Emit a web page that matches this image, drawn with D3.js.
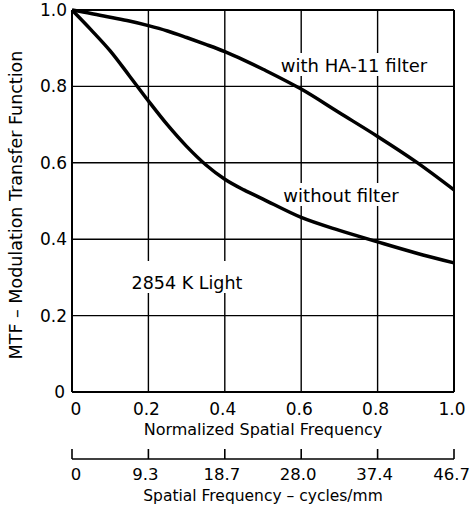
<!DOCTYPE html>
<html><head><meta charset="utf-8">
<script src="https://cdn.jsdelivr.net/npm/d3@7/dist/d3.min.js"></script>
<style>
html,body{margin:0;padding:0;background:#fff;}
svg{display:block;}
text{font-family:"DejaVu Sans",sans-serif;fill:#000;}
</style></head>
<body>
<script>
const freqNorm = [0, 0.05, 0.1, 0.15, 0.2, 0.25, 0.3, 0.35, 0.4, 0.45, 0.5, 0.6, 0.7, 0.8, 0.9, 1.0];
const mtfWithFilter = [1.0, 0.991, 0.981, 0.971, 0.959, 0.945, 0.928, 0.910, 0.891, 0.869, 0.845, 0.793, 0.731, 0.669, 0.603, 0.529];
const mtfWithoutFilter = [1.0, 0.948, 0.893, 0.828, 0.762, 0.699, 0.643, 0.595, 0.557, 0.529, 0.505, 0.457, 0.423, 0.393, 0.364, 0.338];
const xTicks = [0, 0.2, 0.4, 0.6, 0.8, 1.0];
const xTickLabels = ["0", "0.2", "0.4", "0.6", "0.8", "1.0"];
const cyclesTickLabels = ["0", "9.3", "18.7", "28.0", "37.4", "46.7"];
const yTicks = [0, 0.2, 0.4, 0.6, 0.8, 1.0];
const yTickLabels = ["0", "0.2", "0.4", "0.6", "0.8", "1.0"];

const W = 471, H = 508;
const svg = d3.select("body").append("svg").attr("width", W).attr("height", H);
const x = d3.scaleLinear().domain([0, 1]).range([72, 454]);
const y = d3.scaleLinear().domain([0, 1]).range([392, 10]);

// grid
const g = svg.append("g");
g.selectAll(".vg").data(xTicks).enter().append("line")
  .attr("x1", d => x(d)).attr("x2", d => x(d)).attr("y1", y(0)).attr("y2", y(1))
  .attr("stroke", "#000").attr("stroke-width", d => (d === 0 || d === 1) ? 2 : 1.4);
g.selectAll(".hg").data(yTicks).enter().append("line")
  .attr("y1", d => y(d)).attr("y2", d => y(d)).attr("x1", x(0)).attr("x2", x(1))
  .attr("stroke", "#000").attr("stroke-width", d => (d === 0 || d === 1) ? 2 : 1.4);

// annotations (white knock-out behind text)
function label(txt, cx, by, size, padTop, padBot) {
  const t = svg.append("text").attr("x", cx).attr("y", by).attr("text-anchor", "middle")
    .attr("font-size", size).text(txt);
  const bb = t.node().getBBox();
  svg.insert("rect", "text").attr("x", bb.x - 3).attr("y", bb.y - padTop).attr("width", bb.width + 6)
    .attr("height", bb.height + padTop + padBot).attr("fill", "#fff");
}

// y tick labels
svg.selectAll(".yl").data(yTicks).enter().append("text")
  .attr("x", (d, i) => i === 0 ? 65 : 67).attr("y", d => y(d) + 6)
  .attr("text-anchor", "end").attr("font-size", 17)
  .text((d, i) => yTickLabels[i]);

// x tick labels
svg.selectAll(".xl").data(xTicks).enter().append("text")
  .attr("x", (d, i) => i === 0 ? x(d) + 4 : x(d) - 2).attr("y", 415)
  .attr("text-anchor", "middle").attr("font-size", 17)
  .text((d, i) => xTickLabels[i]);

svg.append("text").attr("x", x(0.5)).attr("y", 435).attr("text-anchor", "middle")
  .attr("font-size", 16).text("Normalized Spatial Frequency");

// second axis
svg.append("line").attr("x1", x(0)).attr("x2", x(1)).attr("y1", 459).attr("y2", 459)
  .attr("stroke", "#000").attr("stroke-width", 1.6);
svg.selectAll(".t2").data(xTicks).enter().append("line")
  .attr("x1", d => x(d)).attr("x2", d => x(d)).attr("y1", 449).attr("y2", 459)
  .attr("stroke", "#000").attr("stroke-width", 1.6);
svg.selectAll(".xl2").data(xTicks).enter().append("text")
  .attr("x", (d, i) => i === 0 ? x(d) + 4 : (i === 5 ? 470 : x(d) - 3)).attr("y", 480)
  .attr("text-anchor", (d, i) => i === 5 ? "end" : "middle").attr("font-size", 16.5)
  .text((d, i) => cyclesTickLabels[i]);
svg.append("text").attr("x", x(0.5)).attr("y", 501).attr("text-anchor", "middle")
  .attr("font-size", 15.5).text("Spatial Frequency \u2013 cycles/mm");

// y title
svg.append("text").attr("transform", "translate(22," + 205 + ") rotate(-90)")
  .attr("text-anchor", "middle").attr("font-size", 17.5)
  .text("MTF \u2013 Modulation Transfer Function");

label("with HA-11 filter", 354, 72, 18, 2, 0);
label("without filter", 341, 202, 18, 2, 0);
label("2854 K Light", 187, 289, 17.5, 12, 0);

// curves
const line = d3.line().x(d => x(d[0])).y(d => y(d[1])).curve(d3.curveCatmullRom.alpha(0.5));
svg.append("path").datum(freqNorm.map((f, i) => [f, mtfWithFilter[i]]))
  .attr("d", line).attr("fill", "none").attr("stroke", "#000").attr("stroke-width", 3.5);
svg.append("path").datum(freqNorm.map((f, i) => [f, mtfWithoutFilter[i]]))
  .attr("d", line).attr("fill", "none").attr("stroke", "#000").attr("stroke-width", 3.5);
</script>
</body></html>
